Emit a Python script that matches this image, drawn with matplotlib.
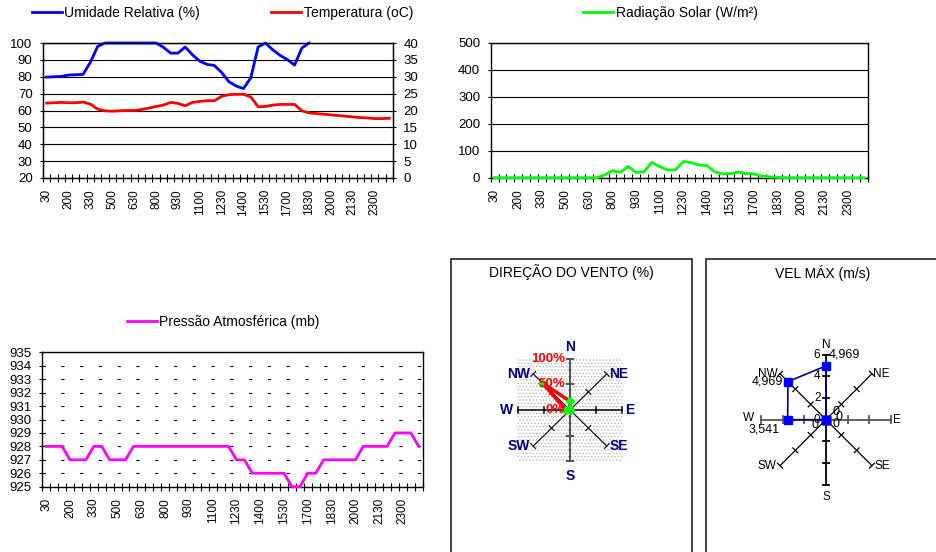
import numpy as np
import matplotlib
matplotlib.use('Agg')
import matplotlib.pyplot as plt
from matplotlib.lines import Line2D
from matplotlib.patches import Rectangle

plt.rcParams['font.family'] = ['Liberation Sans', 'DejaVu Sans']
plt.rcParams['hatch.linewidth'] = 0.6

W, H = 937, 552

# horarios (meia em meia hora)
horas = ['30', '100', '130', '200', '230', '300', '330', '400', '430', '500', '530', '600',
         '630', '700', '730', '800', '830', '900', '930', '1000', '1030', '1100', '1130', '1200',
         '1230', '1300', '1330', '1400', '1430', '1500', '1530', '1600', '1630', '1700', '1730', '1800',
         '1830', '1900', '1930', '2000', '2030', '2100', '2130', '2200', '2230', '2300', '2330', '2400']

umidade = [79.8, 80, 80.2, 81, 81.2, 81.4, 88.6, 98, 100, 100, 100, 100, 100, 100, 100, 100,
           97.5, 94, 94, 97.6, 93, 89.2, 87.3, 86.7, 82.5, 77, 74.5, 73, 79.4, 97.6, 100, 96,
           92.7, 90.2, 86.9, 97, 100] + [np.nan] * 11

temperatura = [22.2, 22.3, 22.4, 22.3, 22.3, 22.5, 21.9, 20.4, 19.9, 19.8, 19.9, 20.0,
               20.0, 20.3, 20.7, 21.2, 21.6, 22.4, 22.1, 21.4, 22.4, 22.7, 22.9, 22.9,
               24.2, 24.7, 24.8, 24.8, 24.0, 21.1, 21.2, 21.6, 21.8, 21.8, 21.8, 19.9,
               19.3, 19.1, 18.9, 18.7, 18.5, 18.3, 18.1, 17.9, 17.8, 17.6, 17.6, 17.7]

radiacao = [0, 0, 0, 0, 0, 0, 0, 0, 0, 0, 0, 0, 0, 0,
            10, 26, 20, 42, 19, 22, 57, 41, 29, 29, 60, 56, 47, 45, 22, 14, 15, 21, 15, 14, 6, 3, 1,
            0, 0, 0, 0, 0, 0, 0, 0, 0, 0, 0]

pressao = [928, 928, 928, 927, 927, 927, 928, 928, 927, 927, 927, 928,
           928, 928, 928, 928, 928, 928, 928, 928, 928, 928, 928, 928,
           927, 927, 926, 926, 926, 926, 926, 925, 925, 926, 926, 927,
           927, 927, 927, 927, 928, 928, 928, 928, 929, 929, 929, 928]

direcoes = ['N', 'NE', 'E', 'SE', 'S', 'SW', 'W', 'NW']
direcao_vento = [17, 0, 0, 0, 0, 0, 8, 76]          # %
vel_max = [4.969, 0, 0, 0, 0, 0, 3.541, 4.969]      # m/s

fig = plt.figure(figsize=(W / 100, H / 100), dpi=100)


def eixo(x0, y0, x1, y1):
    return fig.add_axes([x0 / W, 1 - y1 / H, (x1 - x0) / W, (y1 - y0) / H])


def fpos(x, y):
    return (x / W, 1 - y / H)


x = np.arange(len(horas))
idx_rot = np.arange(0, len(horas), 3)


def formata(ax, ymin, ymax, passo, grade):
    ax.set_xlim(-0.5, len(horas) - 0.5)
    ax.set_ylim(ymin, ymax)
    ax.set_yticks(np.arange(ymin, ymax + passo / 2, passo))
    ax.set_xticks(np.arange(-0.5, len(horas), 1))
    ax.set_xticklabels([])
    ax.set_xticks(idx_rot, minor=True)
    ax.set_xticklabels([horas[i] for i in idx_rot], minor=True, rotation=90, fontsize=8.5)
    ax.tick_params(axis='x', which='major', direction='inout', length=6, width=0.8)
    ax.tick_params(axis='x', which='minor', length=0, pad=8)
    ax.tick_params(axis='y', direction='inout', length=5, width=0.8, labelsize=9.5, pad=5)
    ax.set_axisbelow(True)
    ax.yaxis.grid(True, color='black', lw=0.8, linestyle=grade)
    for s in ax.spines.values():
        s.set_color('black')
        s.set_linewidth(1)


def legenda(ax, linhas, textos, xy, **kw):
    ax.legend(linhas, textos, loc='center left', bbox_to_anchor=fpos(*xy),
              bbox_transform=fig.transFigure, frameon=False, fontsize=10,
              handlelength=2.15, handletextpad=0.2, borderpad=0, borderaxespad=0, **kw)


# --- umidade e temperatura
ax1 = eixo(43, 43, 393, 178)
formata(ax1, 20, 100, 10, '-')
l1, = ax1.plot(x, umidade, color='#0000ff', lw=2, clip_on=False, zorder=3)
ax2 = ax1.twinx()
ax2.set_ylim(0, 40)
ax2.set_yticks(np.arange(0, 41, 5))
ax2.tick_params(axis='y', direction='inout', length=5, width=0.8, labelsize=9.5, pad=5)
l2, = ax2.plot(x, temperatura, color='#ff0000', lw=2)
legenda(ax1, [l1, l2], ['Umidade Relativa (%)', 'Temperatura (oC)'], (31.7, 12.7),
        ncol=2, columnspacing=5.1)

# --- radiacao solar
ax3 = eixo(490.7, 43, 868, 177.7)
formata(ax3, 0, 500, 100, '-')
l3, = ax3.plot(x, radiacao, color='#00ff00', lw=2, clip_on=False, zorder=3)
legenda(ax3, [l3], ['Radiação Solar (W/m²)'], (583.3, 12.7))

# --- pressao
ax4 = eixo(42.3, 352.3, 422.7, 486.7)
formata(ax4, 925, 935, 1, (0, (2.9, 14)))
l4, = ax4.plot(x, pressao, color='#ff00ff', lw=2, clip_on=False, zorder=3)
legenda(ax4, [l4], ['Pressão Atmosférica (mb)'], (126.7, 321.7))

# --- caixas dos graficos de vento
fig.add_artist(Rectangle(fpos(451, 600), 241 / W, 341 / H, transform=fig.transFigure,
                         fill=False, edgecolor='#222222', lw=1.2))
fig.add_artist(Rectangle(fpos(706, 600), 260 / W, 341 / H, transform=fig.transFigure,
                         fill=False, edgecolor='#222222', lw=1.2))
fig.text(*fpos(571.5, 272), 'DIREÇÃO DO VENTO (%)', ha='center', va='center', fontsize=10)
fig.text(*fpos(823, 273), 'VEL MÁX (m/s)', ha='center', va='center', fontsize=10)

ang = np.deg2rad(np.arange(0, 360, 45))


def raios(ax, rmax, marcas, meio, cores, larguras):
    for a, c, lw in zip(ang, cores, larguras):
        ax.plot([0, rmax * np.sin(a)], [0, rmax * np.cos(a)], color=c, lw=lw, zorder=1)
        for r in marcas:
            cx, cy = r * np.sin(a), r * np.cos(a)
            dx, dy = meio * np.cos(a), -meio * np.sin(a)
            ax.plot([cx - dx, cx + dx], [cy - dy, cy + dy], color=c, lw=lw, zorder=1)


def rotulos_dir(ax, rmax, desloc, **kw):
    for a, nome, (ox, oy, ha, va) in zip(ang, direcoes, desloc):
        ax.annotate(nome, (rmax * np.sin(a), rmax * np.cos(a)), xytext=(ox, oy),
                    textcoords='offset points', ha=ha, va=va, annotation_clip=False, **kw)


# --- direcao do vento
ax5 = eixo(516.7, 357.7, 623.3, 462.3)
lim5 = 53.3 / 52 * 100
ax5.set_xlim(-lim5, lim5)
ax5.set_ylim(-lim5, lim5)
ax5.set_axis_off()
ax5.add_patch(Rectangle((-lim5, -lim5), 2 * lim5, 2 * lim5, facecolor='white',
                        edgecolor='#b8b8b8', hatch='.....', lw=0, zorder=0))
raios(ax5, 100, [50, 100], 6.5,
      ['#555555', 'black', 'black', 'black', '#555555', 'black', 'black', 'black'],
      [1.5, 0.8, 1.1, 0.8, 1.5, 0.8, 1.1, 0.8])
vx = [v * np.sin(a) for v, a in zip(direcao_vento, ang)]
vy = [v * np.cos(a) for v, a in zip(direcao_vento, ang)]
ax5.plot(vx + vx[:1], vy + vy[:1], color='#ff0000', lw=2.5, zorder=3, clip_on=False)
ax5.plot(vx, vy, ls='none', marker='D', color='#00ff00', ms=4.5, zorder=4, clip_on=False)
for r in [0, 50, 100]:
    ax5.annotate(f'{r}%', (0, r), xytext=(-3.6, 0), textcoords='offset points', ha='right',
                 va='center', color='#ff0000', fontweight='bold', fontsize=9.5, zorder=5)
rotulos_dir(ax5, 100, [(0, 6, 'center', 'baseline'), (1.8, 0, 'left', 'center'),
                       (2.5, 0, 'left', 'center'), (1.8, 0, 'left', 'center'),
                       (0, -5.5, 'center', 'top'), (-2.3, 0, 'right', 'center'),
                       (-3.2, 0, 'right', 'center'), (-2.3, 0, 'right', 'center')],
            color='#000080', fontweight='bold', fontsize=10)

# --- velocidade maxima
ax6 = eixo(826 - 75, 419.7 - 75, 826 + 75, 419.7 + 75)
lim6 = 75 / 65 * 6
ax6.set_xlim(-lim6, lim6)
ax6.set_ylim(-lim6, lim6)
ax6.set_axis_off()
raios(ax6, 6, [2, 4, 6], 0.32,
      ['black', 'black', '#555555', 'black', 'black', 'black', '#555555', 'black'],
      [1.3, 0.9, 1.3, 0.9, 1.3, 0.9, 1.3, 0.9])
wx = [v * np.sin(a) for v, a in zip(vel_max, ang)]
wy = [v * np.cos(a) for v, a in zip(vel_max, ang)]
ax6.plot(wx + wx[:1], wy + wy[:1], color='#000080', lw=1.2, zorder=3)
ax6.plot(wx, wy, ls='none', marker='s', color='#0000ff', ms=5.5, zorder=4)
for r in [0, 2, 4, 6]:
    ax6.annotate(str(r), (0, r), xytext=(-4, 0), textcoords='offset points', ha='right',
                 va='center', fontsize=8.5, zorder=5)
desloc_val = [(2, 8, 'left'), (7, 5.8, 'center'), (9.4, 2.2, 'center'), (7.2, -3.3, 'center'),
              None, (-8, -3.8, 'center'), (-5.8, -6.9, 'right'), (-3.6, 0, 'right')]
for v, a, d in zip(vel_max, ang, desloc_val):
    if d is None:
        continue
    txt = f'{v:.3f}'.replace('.', ',') if v else '0'
    ax6.annotate(txt, (v * np.sin(a), v * np.cos(a)), xytext=d[:2], textcoords='offset points',
                 ha=d[2], va='center', fontsize=9, zorder=5)
rotulos_dir(ax6, 6, [(0, 4.8, 'center', 'baseline'), (1, 0, 'left', 'center'),
                     (1.2, 0, 'left', 'center'), (2, 0, 'left', 'center'),
                     (0, -4.5, 'center', 'top'), (-2.4, 0, 'right', 'center'),
                     (-5, 1, 'right', 'center'), (-2, 0, 'right', 'center')],
            color='black', fontsize=8.5)

fig.savefig('out.png', dpi=100)
